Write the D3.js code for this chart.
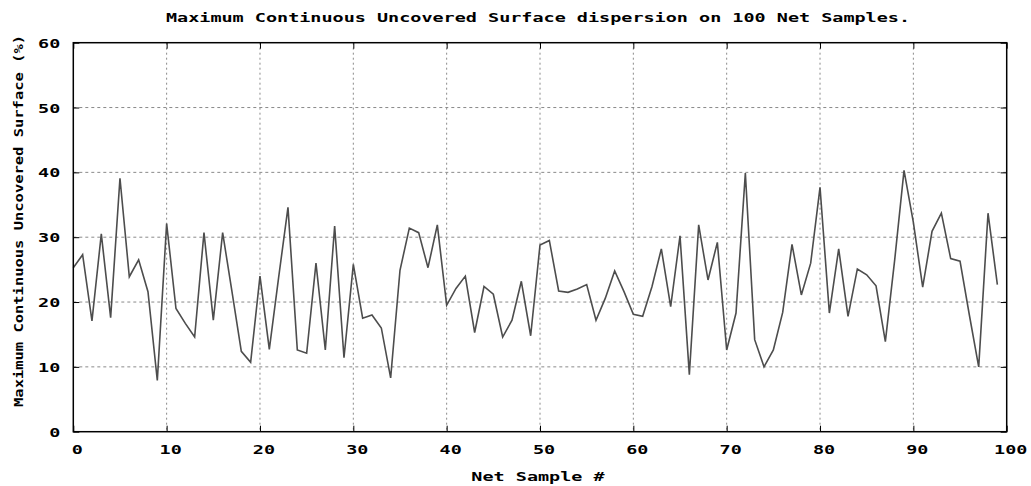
<!DOCTYPE html>
<html>
<head>
<meta charset="utf-8">
<script src="https://cdn.jsdelivr.net/npm/d3@7"></script>
<style>
  body { margin: 0; background: #fff; }
  svg { display: block; }
  text { font-family: "DejaVu Sans Mono", monospace; font-weight: bold; fill: #000; font-size: 13px; }
</style>
</head>
<body>
<svg id="chart"></svg>
<script>
// surface value per net sample (index = sample #)
const surfaceValues = [
  25.3, 27.3, 17.1, 30.5, 17.6, 39.1, 23.9, 26.5, 21.6, 7.9,
  32.1, 19.0, 16.7, 14.6, 30.7, 17.2, 30.7, 21.6, 12.4, 10.7,
  24.0, 12.7, 23.8, 34.6, 12.6, 12.1, 26.0, 12.6, 31.7, 11.4,
  25.8, 17.5, 18.0, 16.0, 8.3, 24.9, 31.4, 30.7, 25.3, 31.9,
  19.5, 22.1, 24.0, 15.3, 22.4, 21.2, 14.6, 17.2, 23.2, 14.8,
  28.8, 29.5, 21.7, 21.5, 22.0, 22.7, 17.2, 20.6, 24.8, 21.6,
  18.1, 17.8, 22.4, 28.2, 19.3, 30.2, 8.8, 31.9, 23.4, 29.2,
  12.6, 18.3, 39.9, 14.2, 10.0, 12.6, 18.4, 28.9, 21.1, 26.0,
  37.7, 18.3, 28.2, 17.8, 25.1, 24.2, 22.5, 13.9, 26.5, 40.3,
  32.3, 22.3, 30.9, 33.7, 26.7, 26.3, 18.0, 10.0, 33.7, 22.7
];
const xTicks = [0, 10, 20, 30, 40, 50, 60, 70, 80, 90, 100];
const yTicks = [0, 10, 20, 30, 40, 50, 60];
const titleText = "Maximum Continuous Uncovered Surface dispersion on 100 Net Samples.";
const xLabel = "Net Sample #";
const yLabel = "Maximum Continuous Uncovered Surface (%)";

const width = 1031, height = 486;
const margin = { top: 42.7, right: 24.3, bottom: 54.3, left: 73.3 };
const innerWidth = width - margin.left - margin.right;
const innerHeight = height - margin.top - margin.bottom;
const wide = 1.42; // the bitmap font is much wider than DejaVu

const svg = d3.select("#chart").attr("width", width).attr("height", height);
const g = svg.append("g").attr("transform", `translate(${margin.left},${margin.top})`);

const xScale = d3.scaleLinear().domain([0, 100]).range([0, innerWidth]);
const yScale = d3.scaleLinear().domain([0, 60]).range([innerHeight, 0]);

// grid
g.append("g").selectAll("line").data(xTicks.slice(1, -1)).join("line")
  .attr("x1", d => xScale(d)).attr("x2", d => xScale(d))
  .attr("y1", 0).attr("y2", innerHeight)
  .attr("stroke", "#8a8a8a").attr("stroke-width", 1)
  .attr("stroke-dasharray", "2,3");
g.append("g").selectAll("line").data(yTicks.slice(1, -1)).join("line")
  .attr("x1", 0).attr("x2", innerWidth)
  .attr("y1", d => yScale(d)).attr("y2", d => yScale(d))
  .attr("stroke", "#8a8a8a").attr("stroke-width", 1)
  .attr("stroke-dasharray", "3,3");

// mirrored inward ticks
const tickLen = 6;
const styleAxis = sel => {
  sel.select(".domain").remove();
  sel.selectAll(".tick text").remove();
  sel.selectAll(".tick line").attr("stroke", "#000").attr("stroke-width", 1);
};
g.append("g").attr("transform", `translate(0,${innerHeight})`)
  .call(d3.axisBottom(xScale).tickValues(xTicks).tickSize(-tickLen))
  .call(styleAxis);
g.append("g")
  .call(d3.axisTop(xScale).tickValues(xTicks).tickSize(-tickLen))
  .call(styleAxis);
g.append("g")
  .call(d3.axisLeft(yScale).tickValues(yTicks).tickSize(-tickLen))
  .call(styleAxis);
g.append("g").attr("transform", `translate(${innerWidth},0)`)
  .call(d3.axisRight(yScale).tickValues(yTicks).tickSize(-tickLen))
  .call(styleAxis);

// tick labels
g.append("g").selectAll("text").data(xTicks).join("text")
  .attr("transform", d => `translate(${xScale(d) + 4},${innerHeight + 22}) scale(${wide},1)`)
  .attr("text-anchor", "middle")
  .text(d => d);
g.append("g").selectAll("text").data(yTicks).join("text")
  .attr("transform", d => `translate(-13,${yScale(d) + 5}) scale(${wide},1)`)
  .attr("text-anchor", "end")
  .text(d => d);

// data line
const line = d3.line()
  .x((d, i) => xScale(i))
  .y(d => yScale(d));
g.append("path").datum(surfaceValues)
  .attr("d", line)
  .attr("fill", "none")
  .attr("stroke", "#4d4d4d")
  .attr("stroke-width", 1.6)
  .attr("stroke-linejoin", "miter");

// frame
g.append("rect")
  .attr("x", 0).attr("y", 0)
  .attr("width", innerWidth).attr("height", innerHeight)
  .attr("fill", "none").attr("stroke", "#000").attr("stroke-width", 1.5);

// labels
svg.append("text")
  .attr("transform", `translate(538,21.5) scale(${wide},1)`)
  .attr("text-anchor", "middle")
  .text(titleText);
svg.append("text")
  .attr("transform", `translate(538,481) scale(${wide},1)`)
  .attr("text-anchor", "middle")
  .text(xLabel);
svg.append("text")
  .attr("transform", `translate(23,221) rotate(-90) scale(1.19,1)`)
  .attr("text-anchor", "middle")
  .text(yLabel);
</script>
</body>
</html>
